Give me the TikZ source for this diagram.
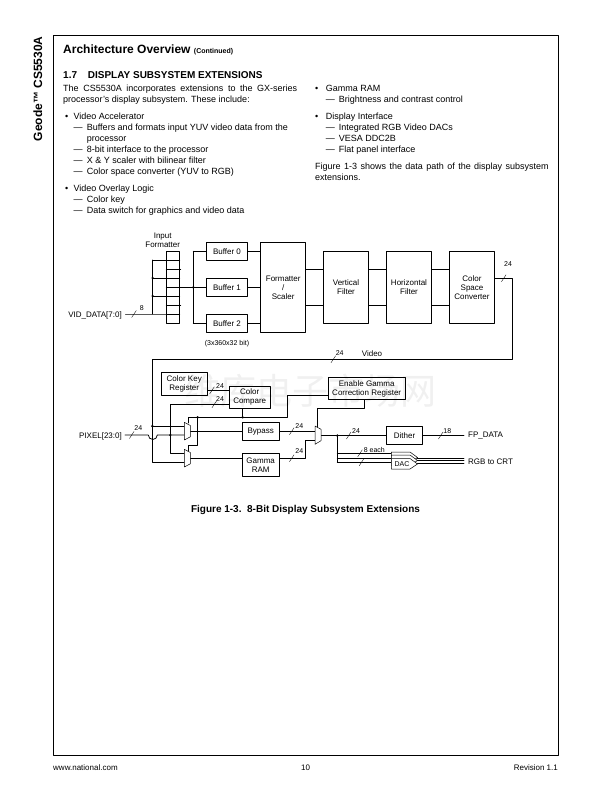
\documentclass[tikz,border=0pt]{standalone}
\usepackage{fontspec}
\setmainfont{Liberation Sans}
\newfontfamily\cjk{Noto Sans CJK SC}
\usetikzlibrary{calc}
\tikzset{
	wire/.style={line width=0.75pt},
	bx/.style={draw,line width=0.75pt,inner sep=0pt,align=center,font=\fontsize{8}{9}\selectfont},
	lab/.style={inner sep=0pt,font=\fontsize{8}{9}\selectfont},
	numlab/.style={inner sep=0pt,font=\fontsize{7}{8}\selectfont},
	slash/.style={line width=0.35pt},
	dot/.style={circle,fill,inner sep=0pt,minimum size=2.6pt},
	mux/.style={draw,line width=0.5pt,fill=white},
	body/.style={anchor=base west,inner sep=0pt,font=\fontsize{9}{10.8}\selectfont},
}
\newcommand{\jl}[2]{\makebox[#1pt][s]{#2}}
\begin{document}
\begin{tikzpicture}[x=1pt,y=-1pt,line join=round,line cap=round]
	\useasboundingbox (0,0) rectangle (611,792);
	% page frame and running text
	\draw[line width=0.9pt] (53.7,35.3) rectangle (558,755.5);
	\node[rotate=90,anchor=base west,inner sep=0pt,font=\fontsize{12}{14}\bfseries\selectfont] (side) at (42,141.5) {Geode™ CS5530A};
	\node[body,font=\fontsize{12}{14}\bfseries\selectfont] (title) at (63,53) {Architecture Overview \fontsize{7}{8}\selectfont(Continued)};
	\node[body,font=\fontsize{10}{12}\bfseries\selectfont] (secnum) at (63,78.5) {1.7};
	\node[body,font=\fontsize{10}{12}\bfseries\selectfont] (sechead) at (87.7,78.5) {DISPLAY SUBSYSTEM EXTENSIONS};
	\node[body] (t1) at (63,91.5) {\jl{234}{The CS5530A incorporates extensions to the GX-series}};
	\node[body] (t2) at (63,102) {processor's display subsystem. These include:};
	\foreach \n/\x/\y/\t in {
		b1/65/119/•, t3/73.3/119/Video Accelerator,
		d1/73.3/130/—, t4/86.7/130/Buffers and formats input YUV video data from the,
		t5/86.7/141/processor,
		d2/73.3/152/—, t6/86.7/152/8-bit interface to the processor,
		d3/73.3/163/—, t7/86.7/163/X \& Y scaler with bilinear filter,
		d4/73.3/174/—, t8/86.7/174/Color space converter (YUV to RGB),
		b2/65/191/•, t9/73.3/191/Video Overlay Logic,
		d5/73.3/202/—, t10/86.7/202/Color key,
		d6/73.3/213/—, t11/86.7/213/Data switch for graphics and video data,
		b3/315/91/•, t12/325.7/91/Gamma RAM,
		d7/325.7/102/—, t13/338.7/102/Brightness and contrast control,
		b4/315/119/•, t14/325.7/119/Display Interface,
		d8/325.7/130/—, t15/338.7/130/Integrated RGB Video DACs,
		d9/325.7/141/—, t16/338.7/141/VESA DDC2B/DPMS support,
		d10/325.7/152/—, t17/338.7/152/Flat panel interface}
		\node[body] (\n) at (\x,\y) {\t};
	\node[body] (t18) at (315,169) {\jl{233.5}{Figure 1-3 shows the data path of the display subsystem}};
	\node[body] (t19) at (315,180) {extensions.};
	\node[body,font=\fontsize{10}{12}\bfseries\selectfont,anchor=base] (cap) at (305.5,512.5) {Figure 1-3.\ \ 8-Bit Display Subsystem Extensions};
	\node[body,font=\fontsize{8}{9}\selectfont] (foot1) at (53,770) {www.national.com};
	\node[body,font=\fontsize{8}{9}\selectfont,anchor=base] (foot2) at (305.5,770) {10};
	\node[body,font=\fontsize{8}{9}\selectfont,anchor=base east] (foot3) at (558,770) {Revision 1.1};
	% watermark
	\node[inner sep=0pt,text=black!6,font=\cjk\fontsize{36}{36}\selectfont] (mark) at (310,391) {维库电子市场网};
	% upper row of blocks
	\node[bx,minimum width=40.6pt,minimum height=18pt] (buf0) at (227,251.3) {Buffer 0};
	\node[bx,minimum width=40.6pt,minimum height=18pt] (buf1) at (227,287.3) {Buffer 1};
	\node[bx,minimum width=40.6pt,minimum height=18pt] (buf2) at (227,323.3) {Buffer 2};
	\node[bx,minimum width=45pt,minimum height=90pt] (fmt) at (283.2,287.3) {Formatter\\/\\Scaler};
	\node[bx,minimum width=45.4pt,minimum height=72pt] (vf) at (346,287.2) {Vertical\\Filter};
	\node[bx,minimum width=45.4pt,minimum height=72pt] (hf) at (409,287.2) {Horizontal\\Filter};
	\node[bx,minimum width=45.4pt,minimum height=72pt] (csc) at (472,287.2) {Color\\Space\\Converter};
	\node[bx,minimum width=12.6pt,minimum height=72.3pt] (ifm) at (173,287.2) {};
	\node[lab,align=center] (ifmtxt) at (162.7,240.5) {Input\\Formatter};
	\node[numlab] (bufsize) at (227,343.3) {(3x360x32 bit)};
	\node[lab,anchor=east] (vid) at (122,315) {VID\_DATA[7:0]};
	% input formatter rows
	\coordinate (busT) at (152.7,260);
	\coordinate (busB) at (152.7,314);
	\coordinate (vidE) at (125.5,314);
	\coordinate (fanT) at (193.3,251.3);
	\coordinate (fanB) at (193.3,323.3);
	\foreach \y in {260,278,296} \draw[wire] (152.7,\y) -- (ifm.east |- 0,\y);
	\foreach \y in {269,305} \draw[wire] (ifm.west |- 0,\y) -- (180.8,\y);
	\draw[wire] (vidE) -- (busB) -- (ifm.east |- busB);
	\draw[wire] (busT) -- (busB);
	\draw[wire] (ifm.west |- 0,287.3) -- (buf1.west);
	\draw[wire] (fanT) -- (fanB);
	\draw[wire] (fanT) -- (buf0.west);
	\draw[wire] (fanB) -- (buf2.west);
	\node[dot] (j1) at (152.7,278) {};
	\node[dot] (j2) at (152.7,296) {};
	\node[dot] (j3) at (193.3,287.3) {};
	\draw[wire] (buf0.east) -- (fmt.west |- buf0);
	\draw[wire] (buf1.east) -- (fmt.west |- buf1);
	\draw[wire] (buf2.east) -- (fmt.west |- buf2);
	\foreach \y in {269.3,305.3} {
		\draw[wire] (fmt.east |- 0,\y) -- (vf.west |- 0,\y);
		\draw[wire] (vf.east |- 0,\y) -- (hf.west |- 0,\y);
		\draw[wire] (hf.east |- 0,\y) -- (csc.west |- 0,\y);
	}
	% video bus round to the lower part
	\coordinate (vidR) at (512.7,278.3);
	\coordinate (vidC) at (512.7,359.3);
	\coordinate (vidL) at (152.3,359.3);
	\coordinate (vidD) at (152.3,462.3);
	% lower part
	\node[bx,minimum width=45.7pt,minimum height=23pt] (ckr) at (184.2,383.8) {Color Key\\Register};
	\node[bx,minimum width=40.7pt,minimum height=22pt] (cmp) at (249.7,397.3) {Color\\Compare};
	\node[bx,minimum width=36.7pt,minimum height=18pt] (byp) at (260.7,431.3) {Bypass};
	\node[bx,minimum width=36.7pt,minimum height=23pt] (gam) at (260.7,464.8) {Gamma\\RAM};
	\node[bx,minimum width=76.7pt,minimum height=21.6pt] (en) at (366.7,388.5) {Enable Gamma\\Correction Register};
	\node[bx,minimum width=36.4pt,minimum height=17.6pt] (dth) at (404.5,435.5) {Dither};
	\node[lab,anchor=east] (pix) at (122,436) {PIXEL[23:0]};
	\node[lab,anchor=west] (fp) at (468,436) {FP\_DATA};
	\node[lab,anchor=west] (crt) at (468,462) {RGB to CRT};
	\node[lab] (vidtxt) at (372,353.5) {Video};
	\draw[wire] (csc.east |- vidR) -- (vidR) -- (vidC) -- (vidL) -- (vidD) -- (184.3,462.3);
	\draw[wire] (ckr.east |- 0,390.3) -- (cmp.west |- 0,390.3);
	\draw[wire] (cmp.west |- 0,404.3) -- (170.3,404.3) -- (170.3,453.3) -- (184.3,453.3);
	\draw[wire] (125,435) -- (148.3,435) arc[start angle=180,end angle=0,radius=4.5] -- (184.3,435);
	\draw[wire] (152.3,426) -- (184.3,426);
	\draw[wire] (190.3,431.3) -- (byp.west);
	\draw[wire] (190.3,458.3) -- (gam.west |- 0,458.3);
	\draw[wire] (188.3,423) -- (188.3,417.3) -- (287.7,417.3) -- (287.7,395) -- (en.west |- 0,395);
	\draw[wire] (197.7,417.3) -- (197.7,445) -- (188.3,445) -- (188.3,451.5);
	\draw[wire] (cmp.south -| 242.7,0) -- (242.7,417.3);
	\draw[wire] (byp.east) -- (315,431.3);
	\draw[wire] (gam.east |- 0,458.3) -- (305.7,458.3) -- (305.7,440) -- (315,440);
	\draw[wire] (en.south -| 364.7,0) -- (364.7,408.3) -- (317.3,408.3) -- (317.3,427);
	\draw[wire] (321,435.5) -- (dth.west);
	\draw[wire] (dth.east) -- (464,435.5);
	\draw[wire] (337.3,435.5) -- (337.3,462.3);
	\foreach \y in {453.3,458,462.3} \draw[wire] (337.3,\y) -- (391.3,\y);
	\foreach \y in {458.3,460.8,463.3} \draw[wire] (417,\y) -- (464,\y);
	\node[dot] (j4) at (152.3,426) {};
	\node[dot] (j5) at (170.3,435) {};
	\node[dot] (j6) at (197.7,417.3) {};
	\node[dot] (j7) at (242.7,417.3) {};
	\node[dot] (j8) at (337.3,435.5) {};
	% muxes
	\draw[mux] (184.3,422.3) -- (190.3,425.5) -- (190.3,436.8) -- (184.3,440) -- cycle;
	\draw[mux] (184.3,449.3) -- (190.3,452.5) -- (190.3,463.8) -- (184.3,467) -- cycle;
	\draw[mux] (315,426) -- (321,429.3) -- (321,440.7) -- (315,444.3) -- cycle;
	% three DACs
	\foreach \y in {0,3,6.5}
		\draw[mux] (391.3,452+\y) -- (410,452+\y) -- (417.5,457.5+\y) -- (410,462.5+\y) -- (391.3,462.5+\y) -- cycle;
	\node[numlab] (dac) at (402,463.7) {DAC};
	% bus slashes and widths
	\foreach \x/\y in {131.7/435,333.3/359.3,503.7/278.3,212/390.3,214.3/404.3,134/314,291.7/431.3,291.7/458.3,348.7/435.5,440.7/435.5,360/453.3,361.5/462.3}
		\draw[slash] (\x,\y)+(-2.3,3.5) -- +(2.3,-3.5);
	\foreach \n/\x/\y/\t in {w1/141.7/308.5/8,w2/508/264.5/24,w3/339.7/353.5/24,w4/220/385.8/24,w5/220/398.8/24,w6/138.3/428.5/24,w7/299.3/425.8/24,w8/299.3/450.8/24,w9/356/430.8/24,w10/447.3/430.8/18,w11/374.3/449.8/8 each}
		\node[numlab] (\n) at (\x,\y) {\t};
\end{tikzpicture}
\end{document}
